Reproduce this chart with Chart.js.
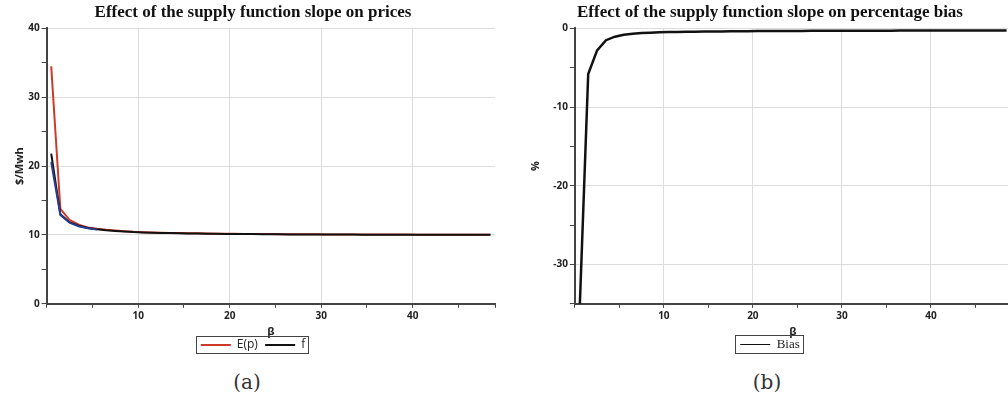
<!DOCTYPE html>
<html>
<head>
<meta charset="utf-8">
<script src="https://cdn.jsdelivr.net/npm/chart.js@4.4.1/dist/chart.umd.min.js"></script>
<style>
  html, body { margin: 0; padding: 0; background: #fff; }
  body { width: 1008px; height: 402px; overflow: hidden; position: relative; }
  #wrapA { position: absolute; left: 0; top: 0; width: 506px; height: 363px; }
  #wrapB { position: absolute; left: 500px; top: 0; width: 540px; height: 365px; }
  .cap { position: absolute; top: 370px; width: 100px; text-align: center;
         font: 20px "DejaVu Serif", serif; color: #333; line-height: 24px; }
</style>
</head>
<body>
<div id="wrapA"><canvas id="priceChart"></canvas></div>
<div id="wrapB"><canvas id="biasChart"></canvas></div>
<div class="cap" style="left:197px">(a)</div>
<div class="cap" style="left:717px">(b)</div>
<script>
// beta (supply function slope)
const beta = [0.5, 1.5, 2.5, 3.5, 4.5, 5.5, 6.5, 7.5, 8.5, 9.5,
  10.5, 11.5, 12.5, 13.5, 14.5, 15.5, 16.5, 17.5, 18.5, 19.5,
  20.5, 21.5, 22.5, 23.5, 24.5, 25.5, 26.5, 27.5, 28.5, 29.5,
  30.5, 31.5, 32.5, 33.5, 34.5, 35.5, 36.5, 37.5, 38.5, 39.5,
  40.5, 41.5, 42.5, 43.5, 44.5, 45.5, 46.5, 47.5, 48.5];

// E(p), $/Mwh
const expPrice = [34.5, 13.8, 12.2, 11.5, 11.1, 10.9, 10.75, 10.63, 10.53, 10.45,
  10.4, 10.36, 10.33, 10.3, 10.27, 10.25, 10.23, 10.21, 10.19, 10.17,
  10.16, 10.15, 10.14, 10.13, 10.12, 10.11, 10.1, 10.1, 10.09, 10.09,
  10.08, 10.08, 10.07, 10.07, 10.06, 10.06, 10.06, 10.05, 10.05, 10.05,
  10.04, 10.04, 10.04, 10.04, 10.03, 10.03, 10.03, 10.03, 10.03];

// f, $/Mwh
const fPrice = [21.8, 13.0, 11.85, 11.33, 11.0, 10.82, 10.69, 10.59, 10.5, 10.42,
  10.37, 10.33, 10.3, 10.27, 10.24, 10.22, 10.2, 10.18, 10.17, 10.15,
  10.14, 10.13, 10.12, 10.11, 10.1, 10.09, 10.08, 10.08, 10.07, 10.07,
  10.06, 10.06, 10.05, 10.05, 10.04, 10.04, 10.04, 10.03, 10.03, 10.03,
  10.02, 10.02, 10.02, 10.02, 10.02, 10.02, 10.02, 10.02, 10.02];

// blue trace visible under f at small beta
const betaLow = [0.5, 1.5, 2.5, 3.5, 4.5, 5.5];
const blueLow = [20.6, 12.9, 11.8, 11.27, 10.97, 10.8];

// percentage bias, %
const bias = [-37.0, -5.8, -2.8, -1.5, -1.05, -0.82, -0.68, -0.6, -0.54, -0.5,
  -0.47, -0.45, -0.43, -0.41, -0.4, -0.39, -0.38, -0.37, -0.36, -0.35,
  -0.34, -0.34, -0.33, -0.33, -0.32, -0.32, -0.31, -0.31, -0.31, -0.3,
  -0.3, -0.3, -0.29, -0.29, -0.29, -0.29, -0.28, -0.28, -0.28, -0.28,
  -0.28, -0.27, -0.27, -0.27, -0.27, -0.27, -0.26, -0.26, -0.26];

const tickFont = { family: "Open Sans", size: 10, weight: 700 };

function pts(xs, ys) {
  return xs.map((x, i) => ({ x: x, y: ys[i] }));
}

const legendBorder = {
  id: "legendBorder",
  afterDraw(chart) {
    const hb = chart.legend && chart.legend.legendHitBoxes;
    if (!hb || !hb.length) return;
    const l = Math.min(...hb.map(b => b.left));
    const r = Math.max(...hb.map(b => b.left + b.width));
    const t = Math.min(...hb.map(b => b.top));
    const bo = Math.max(...hb.map(b => b.top + b.height));
    const ctx = chart.ctx;
    ctx.save();
    ctx.strokeStyle = "#444";
    ctx.lineWidth = 1;
    ctx.strokeRect(Math.round(l - 5) + 0.5, Math.round(t - 3) + 0.5, Math.round(r - l + 8), Math.round(bo - t + 5));
    ctx.restore();
  }
};

function axisX() {
  return {
    type: "linear",
    min: 0,
    max: 49,
    title: { display: true, text: "β", font: { family: "Open Sans", size: 11, weight: 700 }, color: "#222", padding: { top: 1, bottom: 0 } },
    ticks: {
      stepSize: 5,
      font: tickFont,
      color: "#222",
      padding: 2,
      maxRotation: 0,
      callback: v => (v % 10 === 0 && v !== 0 ? v : "")
    },
    grid: {
      color: c => (c.tick && c.tick.value % 10 === 0 ? "#dcdcdc" : "rgba(0,0,0,0)"),
      tickColor: "#444",
      tickLength: 4
    },
    border: { color: "#444", width: 2 }
  };
}

function axisY(min, max, label, titlePad) {
  return {
    type: "linear",
    min: min,
    max: max,
    title: { display: true, text: label, font: { family: "Open Sans", size: 11, weight: 700 }, color: "#222", padding: titlePad },
    ticks: {
      stepSize: 5,
      font: tickFont,
      color: "#222",
      padding: 2,
      callback: v => (v % 10 === 0 ? v : "")
    },
    grid: {
      color: c => (c.tick && c.tick.value % 10 === 0 ? "#dcdcdc" : "rgba(0,0,0,0)"),
      tickColor: "#444",
      tickLength: 5
    },
    border: { color: "#444", width: 2 }
  };
}

function titleOpts(text) {
  return {
    display: true,
    text: text,
    font: { family: "Liberation Serif", size: 17, weight: "bold" },
    color: "#111",
    padding: { top: 2, bottom: 6 }
  };
}

// thin lines in the legend, a little gap between entries
function thinLabels(chart) {
  const items = Chart.defaults.plugins.legend.labels.generateLabels(chart)
    .filter(it => it.text !== "")
    .sort((a, b) => a.datasetIndex - b.datasetIndex);
  items.forEach((it, i) => {
    it.lineWidth = it.text === "Bias" ? 1 : 2;
    if (i < items.length - 1) it.text = it.text + "  ";
  });
  return items;
}

function buildPriceChart() {
  const ctx = document.getElementById("priceChart").getContext("2d");
  new Chart(ctx, {
    type: "line",
    data: {
      datasets: [
        { label: "E(p)", data: pts(beta, expPrice), borderColor: "#cc3b2a", backgroundColor: "#cc3b2a", borderWidth: 2, pointRadius: 0, tension: 0, order: 3 },
        { label: "f", data: pts(beta, fPrice), borderColor: "#111", backgroundColor: "#111", borderWidth: 2, pointRadius: 0, tension: 0, order: 2 },
        { label: "", data: pts(betaLow, blueLow), borderColor: "#2a3a8c", backgroundColor: "#2a3a8c", borderWidth: 2, pointRadius: 0, tension: 0, order: 1 }
      ]
    },
    options: {
      responsive: true,
      maintainAspectRatio: false,
      animation: false,
      layout: { padding: { left: 11, right: 11, top: 0, bottom: 2 } },
      plugins: {
        title: titleOpts("Effect of the supply function slope on prices"),
        legend: {
          position: "bottom",
          labels: {
            usePointStyle: true,
            pointStyle: "line",
            pointStyleWidth: 30,
            padding: 1,
            color: "#222",
            font: { family: "Open Sans", size: 12 },
            generateLabels: thinLabels
          }
        },
        tooltip: { enabled: false }
      },
      scales: {
        x: axisX(),
        y: axisY(0, 40, "$/Mwh", { top: 2, bottom: 0 })
      }
    },
    plugins: [legendBorder]
  });
}

function buildBiasChart() {
  const ctx = document.getElementById("biasChart").getContext("2d");
  new Chart(ctx, {
    type: "line",
    data: {
      datasets: [
        { label: "Bias", data: pts(beta, bias), borderColor: "#111", backgroundColor: "#111", borderWidth: 2.5, pointRadius: 0, tension: 0 }
      ]
    },
    options: {
      responsive: true,
      maintainAspectRatio: false,
      animation: false,
      layout: { padding: { left: 29, right: 29, top: 0, bottom: 4 } },
      plugins: {
        title: titleOpts("Effect of the supply function slope on percentage bias"),
        legend: {
          position: "bottom",
          labels: {
            usePointStyle: true,
            pointStyle: "line",
            pointStyleWidth: 30,
            padding: 0,
            color: "#222",
            font: { family: "Liberation Serif", size: 13 },
            generateLabels: thinLabels
          }
        },
        tooltip: { enabled: false }
      },
      scales: {
        x: axisX(),
        y: axisY(-35, 0, "%", { top: 0, bottom: 9 })
      }
    },
    plugins: [legendBorder]
  });
}

buildPriceChart();
buildBiasChart();
</script>
</body>
</html>
